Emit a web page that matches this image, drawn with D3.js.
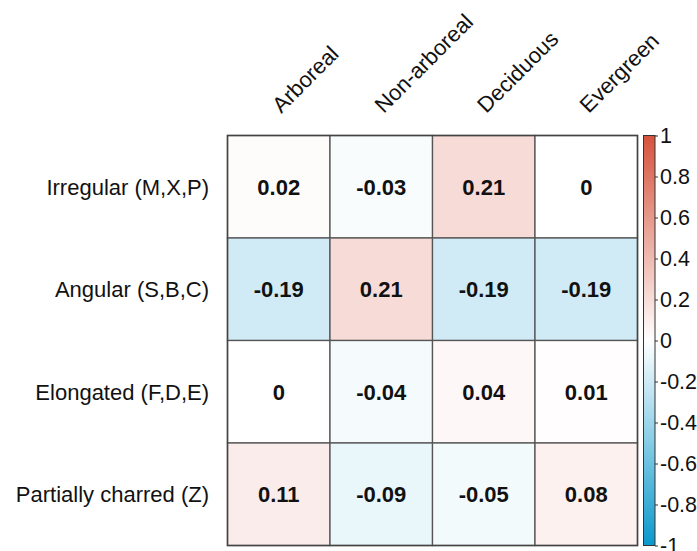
<!DOCTYPE html>
<html><head><meta charset="utf-8">
<script src="https://cdn.jsdelivr.net/npm/d3@7"></script>
<style>body{margin:0;background:#fff}svg{display:block}</style>
</head><body>
<svg id="c" width="697" height="551"></svg>
<script>
const rows = ["Irregular (M,X,P)", "Angular (S,B,C)", "Elongated (F,D,E)", "Partially charred (Z)"];
const cols = ["Arboreal", "Non-arboreal", "Deciduous", "Evergreen"];
const values = [
  [0.02, -0.03, 0.21, 0],
  [-0.19, 0.21, -0.19, -0.19],
  [0, -0.04, 0.04, 0.01],
  [0.11, -0.09, -0.05, 0.08]
];
const legendTicks = [1, 0.8, 0.6, 0.4, 0.2, 0, -0.2, -0.4, -0.6, -0.8, -1];

const svg = d3.select("#c");
const font = "'Liberation Sans', Arial, sans-serif";
const x0 = 227.5, y0 = 135.5, size = 410;
const x = d3.scaleBand().domain(cols).range([x0, x0 + size]);
const y = d3.scaleBand().domain(rows).range([y0, y0 + size]);
const color = d3.scaleLinear().domain([-1, 0, 1]).range(["#0a98cc", "#ffffff", "#d6533c"]);

const cells = [];
rows.forEach((r, i) => cols.forEach((c, j) => cells.push({r, c, v: values[i][j]})));

svg.append("g").selectAll("rect").data(cells).join("rect")
  .attr("x", d => x(d.c)).attr("y", d => y(d.r))
  .attr("width", x.bandwidth()).attr("height", y.bandwidth())
  .attr("fill", d => color(d.v))
  .attr("stroke", "#555").attr("stroke-width", 1.3);

svg.append("rect").attr("x", x0).attr("y", y0).attr("width", size).attr("height", size)
  .attr("fill", "none").attr("stroke", "#444").attr("stroke-width", 1.5);

svg.append("g").selectAll("text").data(cells).join("text")
  .attr("x", d => x(d.c) + x.bandwidth() / 2)
  .attr("y", d => y(d.r) + y.bandwidth() / 2)
  .attr("dy", "0.36em")
  .attr("text-anchor", "middle")
  .attr("font-family", font).attr("font-weight", "bold").attr("font-size", 22)
  .attr("fill", "#111")
  .text(d => String(d.v));

// row labels
svg.append("g").selectAll("text").data(rows).join("text")
  .attr("x", 209).attr("y", d => y(d) + y.bandwidth() / 2)
  .attr("dy", "0.36em").attr("text-anchor", "end")
  .attr("font-family", font).attr("font-size", 22).attr("fill", "#111")
  .text(d => d);

// column labels
svg.append("g").selectAll("text").data(cols).join("text")
  .attr("transform", d => `translate(${x(d) + x.bandwidth() / 2 + 2.5},${114}) rotate(-45)`)
  .attr("text-anchor", "start")
  .attr("font-family", font).attr("font-size", 22).attr("fill", "#111")
  .text(d => d);

// color legend
const lx = 643.5, lw = 11.5;
const ly = d3.scaleLinear().domain([1, -1]).range([y0, y0 + size]);
const defs = svg.append("defs");
const grad = defs.append("linearGradient").attr("id", "g").attr("x1", 0).attr("y1", 0).attr("x2", 0).attr("y2", 1);
d3.range(0, 1.0001, 0.05).forEach(t => {
  grad.append("stop").attr("offset", t).attr("stop-color", color(1 - 2 * t));
});
svg.append("rect").attr("x", lx).attr("y", y0).attr("width", lw).attr("height", size)
  .attr("fill", "url(#g)").attr("stroke", "#333").attr("stroke-width", 1);

const axis = d3.axisRight(ly).tickValues(legendTicks).tickSize(3).tickPadding(2)
  .tickFormat(d => d === 0 ? "0" : String(d));
const ag = svg.append("g").attr("transform", `translate(${lx + lw},0)`).call(axis);
ag.select(".domain").remove();
ag.selectAll(".tick line").attr("stroke", "#333");
ag.selectAll(".tick text").attr("font-family", font).attr("font-size", 21.5).attr("fill", "#111");
</script>
</body></html>
